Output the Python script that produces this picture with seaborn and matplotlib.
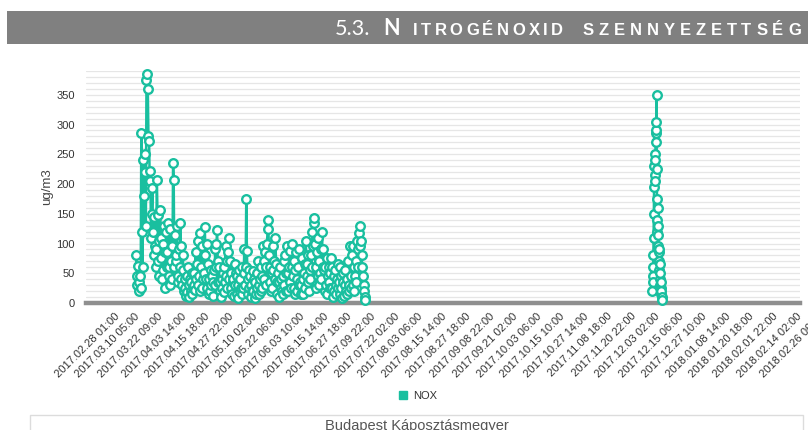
import numpy as np
import pandas as pd
import matplotlib
matplotlib.use("Agg")
import matplotlib.pyplot as plt
import matplotlib.dates as mdates
from matplotlib.lines import Line2D
from matplotlib.patches import Rectangle
from matplotlib.transforms import offset_copy
import seaborn as sns

# NOX concentration (ug/m3), 8-hourly readings, spring-summer 2017
spring_start = "2017-03-09 09:00"
spring_nox = [
    80, 45, 30, 62, 20, 35, 45, 25, 285, 120, 60, 240, 180, 250, 220,
    130, 375, 385, 360, 280, 273, 205, 222, 110, 150, 193, 120, 80, 145, 95,
    60, 90, 206, 148, 70, 105, 45, 157, 75, 110, 40, 100, 55, 130, 85,
    25, 120, 60, 85, 135, 45, 60, 30, 125, 70, 95, 40, 236, 207, 60,
    115, 70, 80, 130, 35, 45, 90, 60, 135, 95, 40, 30, 80, 55, 20,
    25, 40, 12, 45, 18, 60, 30, 10, 40, 20, 35, 15, 50, 25, 30,
    50, 22, 85, 40, 65, 105, 30, 45, 20, 118, 60, 25, 95, 40, 50,
    80, 127, 80, 40, 100, 25, 65, 15, 40, 20, 55, 30, 45, 12, 35,
    55, 30, 90, 60, 100, 123, 70, 35, 60, 20, 35, 10, 40, 25, 50,
    18, 60, 35, 95, 45, 70, 25, 85, 40, 110, 70, 25, 50, 15, 35,
    40, 12, 65, 30, 50, 15, 45, 8, 30, 55, 20, 40, 25, 60, 15,
    25, 50, 90, 30, 60, 174, 88, 40, 15, 55, 25, 45, 10, 30, 20,
    54, 20, 40, 8, 35, 15, 50, 25, 70, 30, 15, 40, 20, 60, 45,
    25, 95, 70, 40, 85, 30, 60, 100, 125, 140, 80, 35, 60, 20, 50,
    25, 95, 55, 70, 40, 110, 65, 35, 15, 50, 10, 35, 60, 25, 40,
    20, 45, 15, 70, 30, 80, 50, 20, 95, 50, 20, 60, 35, 88, 25,
    60, 100, 45, 25, 70, 15, 55, 85, 40, 20, 60, 30, 90, 35, 15,
    30, 75, 40, 15, 50, 25, 65, 105, 45, 65, 35, 80, 20, 55, 40,
    80, 60, 120, 95, 135, 143, 100, 60, 25, 85, 110, 45, 70, 30, 50,
    40, 90, 120, 60, 90, 55, 20, 60, 30, 75, 15, 45, 35, 60, 25,
    50, 76, 25, 60, 10, 45, 20, 55, 30, 15, 40, 65, 25, 35, 60,
    15, 45, 25, 8, 35, 50, 12, 30, 55, 20, 15, 40, 70, 30, 20,
    95, 45, 25, 80, 30, 95, 60, 20, 45, 70, 35, 105, 60, 90, 118,
    95, 130, 105, 80, 60, 45, 30, 20, 10, 5,
]

# NOX concentration (ug/m3), 3-hourly readings, early December 2017
winter_start = "2017-11-30 00:00"
winter_nox = [
    20, 45, 60, 35, 80, 110, 150, 195, 230, 250,
    215, 240, 205, 270, 285, 290, 305, 350, 225, 175,
    140, 120, 95, 130, 160, 115, 85, 70, 55, 90,
    65, 40, 30, 50, 25, 35, 15, 20, 10, 5,
]

tick_labels = [
    "2017.02.28 01:00", "2017.03.10 05:00", "2017.03.22 09:00", "2017.04.03 14:00",
    "2017.04.15 18:00", "2017.04.27 22:00", "2017.05.10 02:00", "2017.05.22 06:00",
    "2017.06.03 10:00", "2017.06.15 14:00", "2017.06.27 18:00", "2017.07.09 22:00",
    "2017.07.22 02:00", "2017.08.03 06:00", "2017.08.15 14:00", "2017.08.27 18:00",
    "2017.09.08 22:00", "2017.09.21 02:00", "2017.10.03 06:00", "2017.10.15 10:00",
    "2017.10.27 14:00", "2017.11.08 18:00", "2017.11.20 22:00", "2017.12.03 02:00",
    "2017.12.15 06:00", "2017.12.27 10:00", "2018.01.08 14:00", "2018.01.20 18:00",
    "2018.02.01 22:00", "2018.02.14 02:00", "2018.02.26 06:00",
]

y_major = [0, 50, 100, 150, 200, 250, 300, 350]
series_name = "NOX"
station = "Budapest Káposztásmegyer"
section_no = "5.3."
section_title = ["NITROGÉNOXID", "SZENNYEZETTSÉG"]

TEAL = "#19bf9f"
W, H = 808, 430

spring = pd.DataFrame({
    "time": pd.date_range(spring_start, periods=len(spring_nox), freq="8h"),
    "NOX": spring_nox, "segment": 0})
winter = pd.DataFrame({
    "time": pd.date_range(winter_start, periods=len(winter_nox), freq="3h"),
    "NOX": winter_nox, "segment": 1})
df = pd.concat([spring, winter], ignore_index=True)

sns.set_theme(style="white")
plt.rcParams["font.family"] = ["Liberation Sans", "DejaVu Sans"]

fig = plt.figure(figsize=(W / 100, H / 100), dpi=100)
ax = fig.add_axes([86 / W, 1 - 303 / H, 714 / W, 232 / H])

sns.lineplot(data=df, x="time", y="NOX", units="segment", estimator=None,
             color=TEAL, lw=1.8, marker="o", markersize=6.2,
             markerfacecolor="white", markeredgecolor=TEAL, markeredgewidth=1.7,
             legend=False, ax=ax, zorder=3)
for ln in ax.lines:
    ln.set_clip_on(False)

ax.set_xlim(pd.Timestamp("2017-02-11 14:00"), pd.Timestamp("2018-02-13 23:00"))
ax.set_ylim(0, 390)
ax.set_yticks(y_major)
ax.set_yticks(np.arange(0, 391, 10), minor=True)
ax.yaxis.grid(True, which="both", color="#e6e6e6", lw=0.9)
ax.set_axisbelow(True)
ax.tick_params(axis="y", which="both", length=0, pad=8, labelsize=8, labelcolor="#333333")
ax.set_xticks([])
ax.set_xlabel("")
ax.set_ylabel("ug/m3", fontsize=9.5, color="#444444", va="center")
ax.yaxis.set_label_coords((47 - 86) / 714, 0.5)

for side in ["top", "right", "left"]:
    ax.spines[side].set_visible(False)
ax.spines["bottom"].set_color("#8f8f8f")
ax.spines["bottom"].set_linewidth(3.2)

# rotated date labels along the time axis
label_xform = offset_copy(ax.get_xaxis_transform(), fig=fig, x=-4, y=-8, units="dots")
for lab in tick_labels:
    t = pd.to_datetime(lab, format="%Y.%m.%d %H:%M")
    ax.text(mdates.date2num(t), 0, lab, transform=label_xform, rotation=45,
            ha="right", va="top", rotation_mode="anchor", fontsize=8,
            color="#333333", clip_on=False)

# legend
fig.legend(handles=[Line2D([], [], marker="s", ls="none", color=TEAL, markersize=6)],
           labels=[series_name], loc="center", bbox_to_anchor=(418 / W, 1 - 396 / H),
           frameon=False, fontsize=8, handlelength=0.8, handletextpad=0.5,
           labelcolor="#333333")

# station panel below
fig.add_artist(Rectangle((30 / W, (H - 415) / H - 0.2), (803 - 30) / W, 0.2,
                         transform=fig.transFigure, fill=False, ec="#dcdcdc", lw=1))
fig.text(417 / W, 1 - 419 / H, station, ha="center", va="top", fontsize=10.5,
         color="#555555")

# section header bar
fig.add_artist(Rectangle((7 / W, 1 - 44 / H), (W - 7) / W, 33 / H,
                         transform=fig.transFigure, color="#808080", lw=0))
base_y = 1 - 35 / H
fig.text(335 / W, base_y, section_no, fontsize=15.5, color="white",
         family=["Lato", "DejaVu Sans"], va="baseline")
fig.text(383 / W, base_y, section_title[0][0], fontsize=15.5, color="white",
         family=["Lato", "DejaVu Sans"], weight="bold", va="baseline")

renderer = fig.canvas.get_renderer()


def spread_letters(word, x0, x1, size=12):
    """Draw a word as letter-spaced capitals filling the span x0..x1 (pixels)."""
    probes = [fig.text(0, 0, c, family="Liberation Sans", weight="bold", size=size)
              for c in word]
    widths = [p.get_window_extent(renderer).width for p in probes]
    for p in probes:
        p.remove()
    gap = (x1 - x0 - sum(widths)) / max(len(word) - 1, 1)
    x = x0
    for c, w in zip(word, widths):
        fig.text(x / W, base_y, c, family="Liberation Sans", weight="bold",
                 size=size, color="white", va="baseline")
        x += w + gap


spread_letters(section_title[0][1:], 413, 563)
spread_letters(section_title[1], 583, 801)

fig.savefig("out.png", dpi=100, facecolor="white")
